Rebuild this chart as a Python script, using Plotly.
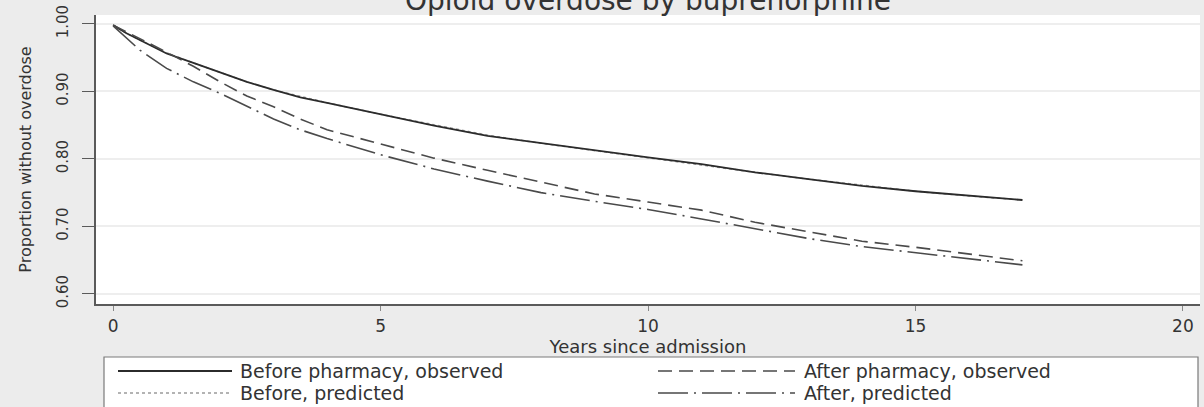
import plotly.graph_objects as go

# ---- data ----
years = [0, 0.25, 0.5, 1, 1.5, 2, 2.5, 3, 3.5, 4, 5, 6, 7, 8, 9, 10, 11, 12, 13, 14, 15, 16, 17]

before_observed = [0.998, 0.986, 0.976, 0.956, 0.942, 0.928, 0.914, 0.902, 0.891, 0.883, 0.866,
                   0.849, 0.834, 0.823, 0.812, 0.802, 0.792, 0.780, 0.770, 0.760, 0.752, 0.745, 0.739]
before_predicted = [0.998, 0.986, 0.976, 0.957, 0.942, 0.928, 0.914, 0.902, 0.892, 0.883, 0.866,
                    0.850, 0.835, 0.823, 0.812, 0.802, 0.791, 0.780, 0.770, 0.761, 0.752, 0.745, 0.739]
after_observed = [0.998, 0.988, 0.979, 0.958, 0.937, 0.914, 0.893, 0.877, 0.859, 0.843, 0.822,
                  0.801, 0.783, 0.765, 0.748, 0.736, 0.724, 0.706, 0.692, 0.678, 0.669, 0.659, 0.649]
after_predicted = [0.997, 0.979, 0.961, 0.934, 0.914, 0.897, 0.878, 0.859, 0.843, 0.830, 0.806,
                   0.785, 0.767, 0.750, 0.737, 0.725, 0.711, 0.696, 0.682, 0.670, 0.661, 0.652, 0.643]

series_names = ["Before pharmacy, observed", "Before, predicted",
                "After pharmacy, observed", "After, predicted"]

x_ticks = [0, 5, 10, 15, 20]
y_ticks = [0.60, 0.70, 0.80, 0.90, 1.00]
y_tick_labels = ["0.60", "0.70", "0.80", "0.90", "1.00"]

title_text = "Opioid overdose by buprenorphine"
x_title = "Years since admission"
y_title = "Proportion without overdose"

# ---- styles ----
FONT = "DejaVu Sans, Liberation Sans, Arial, sans-serif"
TXT = "#333333"
styles = [
    dict(color="#2b2b2b", width=1.8, dash="solid"),
    dict(color="#9a9a9a", width=1.5, dash="dot"),
    dict(color="#4a4a4a", width=1.6, dash="14px,7px"),
    dict(color="#4a4a4a", width=1.6, dash="30px,6px,2px,6px"),
]
values = [before_observed, before_predicted, after_observed, after_predicted]
draw_order = [1, 0, 2, 3]

fig = go.Figure()
for i in draw_order:
    fig.add_trace(go.Scatter(x=years, y=values[i], mode="lines", name=series_names[i],
                             line=styles[i], showlegend=False, hoverinfo="x+y+name"))

W, H = 1204, 407
L, R, T, B = 96, 4, 15, 103
pw, ph = W - L - R, H - T - B


def px_x(p):
    return (p - L) / pw


def px_y(p):
    return (H - B - p) / ph


# ---- hand-drawn legend box (Stata-style) ----
shapes = [dict(type="rect", xref="paper", yref="paper",
               x0=px_x(104), x1=px_x(1198), y0=px_y(412), y1=px_y(357),
               line=dict(color="#7a7a7a", width=1.2), fillcolor="white", layer="above")]
legend_slots = [(118, 232, 371, 238), (118, 232, 393, 238), (658, 795, 371, 802), (658, 795, 393, 802)]
annotations = []
for i, (lx0, lx1, ly, tx) in enumerate(legend_slots):
    st = styles[i]
    shapes.append(dict(type="line", xref="paper", yref="paper",
                       x0=px_x(lx0), x1=px_x(lx1), y0=px_y(ly), y1=px_y(ly),
                       line=dict(color=st["color"], width=st["width"], dash=st["dash"]),
                       layer="above"))
    annotations.append(dict(text=series_names[i], xref="paper", yref="paper",
                            x=px_x(tx), y=px_y(ly), xanchor="left", yanchor="middle",
                            showarrow=False, font=dict(family=FONT, size=19, color=TXT)))

# title: Stata draws it partly above the visible page
annotations.append(dict(text=title_text, xref="paper", yref="paper", x=0.5, y=px_y(19),
                        xanchor="center", yanchor="bottom", showarrow=False,
                        font=dict(family=FONT, size=28, color=TXT)))

fig.update_layout(
    width=W, height=H,
    margin=dict(l=L, r=R, t=T, b=B, autoexpand=False),
    paper_bgcolor="#ececec",
    plot_bgcolor="white",
    font=dict(family=FONT, color=TXT),
    shapes=shapes,
    annotations=annotations,
    showlegend=False,
)

fig.update_xaxes(
    range=[-0.32, 20.32], tickvals=x_ticks, ticktext=[str(v) for v in x_ticks],
    showgrid=False, zeroline=False, automargin=False,
    showline=True, linecolor="#5a5a5a", linewidth=1.5,
    ticks="outside", ticklen=5, tickcolor="#888888", tickwidth=1,
    ticklabelstandoff=1,
    tickfont=dict(family=FONT, size=17, color=TXT),
    title=dict(text=x_title, standoff=0, font=dict(family=FONT, size=18, color=TXT)),
)
fig.update_yaxes(
    range=[0.585, 1.013], tickvals=y_ticks, ticktext=y_tick_labels, tickangle=-90,
    showgrid=True, gridcolor="#eeeeee", gridwidth=1.5, zeroline=False, automargin=False,
    showline=True, linecolor="#5a5a5a", linewidth=1.5,
    ticks="outside", ticklen=12, tickcolor="#5a5a5a", tickwidth=1.2,
    ticklabelstandoff=8,
    tickfont=dict(family=FONT, size=15, color=TXT),
    title=dict(text=y_title, standoff=19, font=dict(family=FONT, size=16, color=TXT)),
)

fig.write_html("out.html", config={"displayModeBar": False},
               post_script="document.body.style.margin='0';document.body.style.padding='0';")
